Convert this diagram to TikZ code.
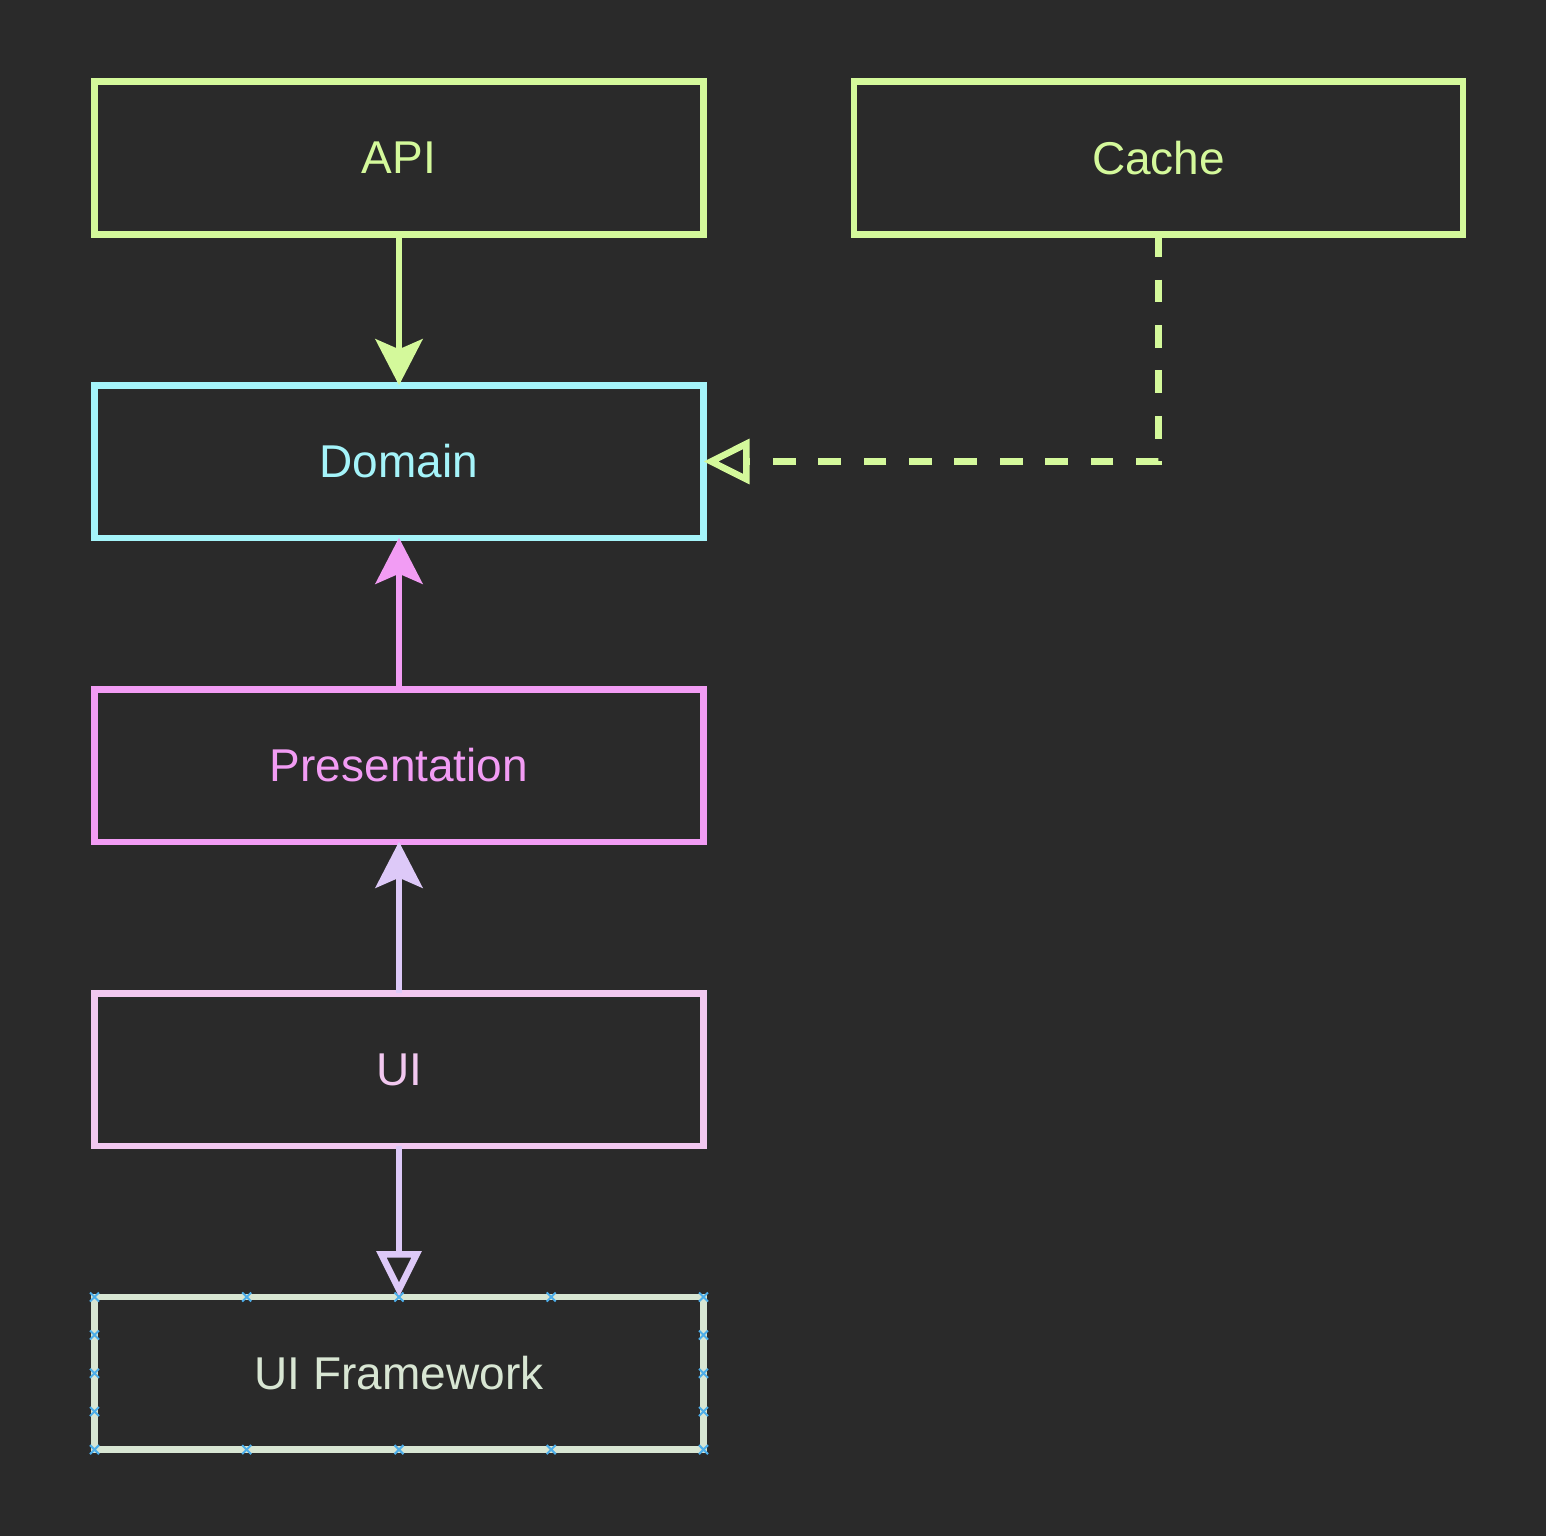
\documentclass[tikz,border=0pt]{standalone}
\usepackage{fontspec}
\setmainfont{Liberation Sans}
\usetikzlibrary{arrows.meta}
\definecolor{bg}{HTML}{2A2A2A}
\definecolor{lgreen}{HTML}{D4F99B}
\definecolor{lcyan}{HTML}{A5F4FA}
\definecolor{lpink}{HTML}{F29CF4}
\definecolor{uipink}{HTML}{F2C8F0}
\definecolor{lav}{HTML}{DDC9F8}
\definecolor{uifc}{HTML}{D8E6D3}
\definecolor{crossblue}{HTML}{4DAEEA}
\begin{document}
\begin{tikzpicture}[x=1pt,y=-1pt,
 box/.style={draw, line width=6.5pt, minimum width=609pt, minimum height=152.5pt, outer sep=0pt, inner sep=0pt, font=\fontsize{46}{52}\selectfont},
 conn/.style={line width=6.5pt},
 filledtip/.style={-{Stealth[length=46pt,width=47pt,inset=10pt]}},
 hollowtip/.style={-{Triangle[open,length=46pt,width=44pt]}},
 xmark/.style={draw=crossblue, line width=2pt}]
\fill[bg] (0,0) rectangle (1546,1536);
\useasboundingbox (0,0) rectangle (1546,1536);
\node[box, draw=lgreen, text=lgreen] (api) at (399,158) {API};
\node[box, draw=lgreen, text=lgreen] (cache) at (1158.5,158) {Cache};
\node[box, draw=lcyan, text=lcyan] (domain) at (399,461.5) {Domain};
\node[box, draw=lpink, text=lpink] (pres) at (399,765.5) {Presentation};
\node[box, draw=uipink, text=uipink] (ui) at (399,1069.5) {UI};
\node[box, draw=uifc, text=uifc] (uif) at (399,1373.3) {UI Framework};
\draw[conn, lgreen, filledtip] (api.south) -- (domain.north);
\draw[conn, lpink, filledtip] (pres.north) -- (domain.south);
\draw[conn, lav, filledtip] (ui.north) -- (pres.south);
\draw[conn, lav, hollowtip] (ui.south) -- (uif.north);
\draw[conn, lgreen, hollowtip, dash pattern=on 22.7pt off 22.7pt] (cache.south) |- (domain.east);
\foreach \x in {94.5,246.7,399,551.2,703.5} {
  \draw[xmark] (\x,1297) +(-4.5,-4.5) -- +(4.5,4.5) +(-4.5,4.5) -- +(4.5,-4.5);
  \draw[xmark] (\x,1449.6) +(-4.5,-4.5) -- +(4.5,4.5) +(-4.5,4.5) -- +(4.5,-4.5);
}
\foreach \y in {1335,1373.3,1411.5} {
  \draw[xmark] (94.5,\y) +(-4.5,-4.5) -- +(4.5,4.5) +(-4.5,4.5) -- +(4.5,-4.5);
  \draw[xmark] (703.5,\y) +(-4.5,-4.5) -- +(4.5,4.5) +(-4.5,4.5) -- +(4.5,-4.5);
}
\end{tikzpicture}
\end{document}
